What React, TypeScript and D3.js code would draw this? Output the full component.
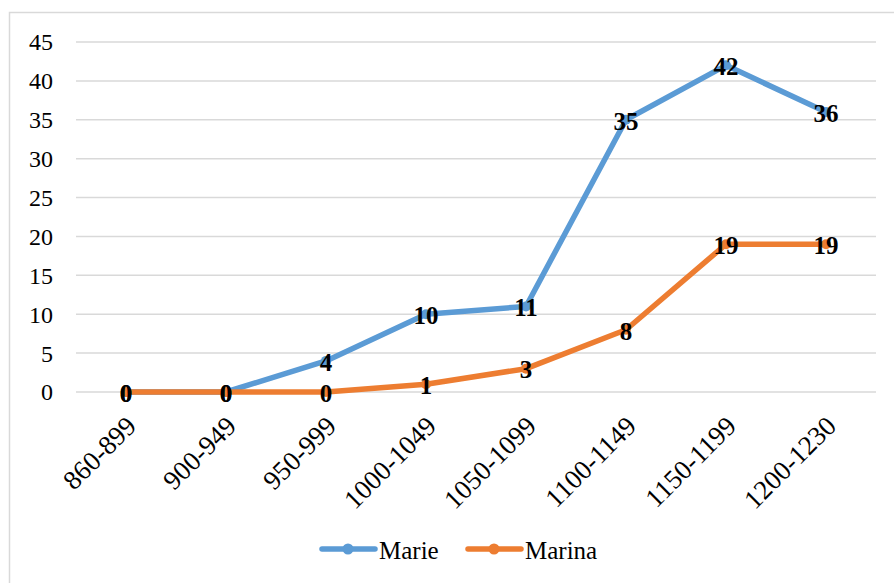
import * as d3 from "d3";
import { useEffect, useRef } from "react";

const categories = [
  "860-899",
  "900-949",
  "950-999",
  "1000-1049",
  "1050-1099",
  "1100-1149",
  "1150-1199",
  "1200-1230",
];
const marieValues = [0, 0, 4, 10, 11, 35, 42, 36];
const marinaValues = [0, 0, 0, 1, 3, 8, 19, 19];
const yTicks = [0, 5, 10, 15, 20, 25, 30, 35, 40, 45];

const seriesList = [
  { name: "Marie", values: marieValues, color: "#5B9BD5" },
  { name: "Marina", values: marinaValues, color: "#ED7D31" },
];

const width = 894;
const height = 583;
const font = "Liberation Serif";

export default function App() {
  const svgRef = useRef<SVGSVGElement>(null);

  useEffect(() => {
    if (!svgRef.current) return;
    const svg = d3.select(svgRef.current);
    svg.selectAll("*").remove();

    // chart frame
    svg
      .append("rect")
      .attr("x", 9.5)
      .attr("y", 12.5)
      .attr("width", 900)
      .attr("height", 600)
      .attr("fill", "#fff")
      .attr("stroke", "#d9d9d9")
      .attr("stroke-width", 1.5);

    const x = d3.scaleBand<string>().domain(categories).range([76, 876]);
    const y = d3.scaleLinear().domain([0, 45]).range([392, 42]);

    // gridlines
    svg
      .append("g")
      .selectAll("line")
      .data(yTicks)
      .join("line")
      .attr("x1", 76)
      .attr("x2", 876)
      .attr("y1", (d) => y(d))
      .attr("y2", (d) => y(d))
      .attr("stroke", "#d9d9d9")
      .attr("stroke-width", 1.5);

    // y tick labels
    svg
      .append("g")
      .selectAll("text")
      .data(yTicks)
      .join("text")
      .attr("x", 53)
      .attr("y", (d) => y(d))
      .attr("dy", "0.35em")
      .attr("text-anchor", "end")
      .style("font-family", font)
      .attr("font-size", 24)
      .attr("fill", "#000")
      .text((d) => d);

    // x tick labels, rotated
    svg
      .append("g")
      .selectAll("text")
      .data(categories)
      .join("text")
      .attr("transform", (d) => `translate(${x(d)! + x.bandwidth() / 2 + 5},${421}) rotate(-45)`)
      .attr("text-anchor", "end")
      .attr("dy", "0.35em")
      .style("font-family", font)
      .attr("font-size", 27)
      .attr("fill", "#000")
      .text((d) => d);

    const cx = (i: number) => x(categories[i])! + x.bandwidth() / 2;
    const line = d3
      .line<number>()
      .x((_, i) => cx(i))
      .y((d) => y(d));

    seriesList.forEach((s) => {
      const g = svg.append("g");
      g.append("path")
        .datum(s.values)
        .attr("d", line)
        .attr("fill", "none")
        .attr("stroke", s.color)
        .attr("stroke-width", 5.5)
        .attr("stroke-linejoin", "round")
        .attr("stroke-linecap", "round");
      g.selectAll("circle")
        .data(s.values)
        .join("circle")
        .attr("cx", (_, i) => cx(i))
        .attr("cy", (d) => y(d))
        .attr("r", 5)
        .attr("fill", s.color);
    });

    // data labels
    seriesList.forEach((s) => {
      svg
        .append("g")
        .selectAll("text")
        .data(s.values)
        .join("text")
        .attr("x", (_, i) => cx(i))
        .attr("y", (d) => y(d) + 1)
        .attr("dy", "0.35em")
        .attr("text-anchor", "middle")
        .style("font-family", font)
        .style("font-weight", "bold")
        .attr("font-size", 25)
        .attr("fill", "#000")
        .text((d) => d);
    });

    // legend
    const legendPos = [320, 466];
    seriesList.forEach((s, i) => {
      const lx = legendPos[i];
      const g = svg.append("g").attr("transform", `translate(${lx},549)`);
      g.append("line")
        .attr("x1", 2)
        .attr("x2", 55)
        .attr("stroke", s.color)
        .attr("stroke-width", 5.5)
        .attr("stroke-linecap", "round");
      g.append("circle").attr("cx", 28).attr("r", 5.5).attr("fill", s.color);
      g.append("text")
        .attr("x", 59)
        .attr("y", 10)
        .style("font-family", font)
        .attr("font-size", 25)
        .attr("fill", "#000")
        .text(s.name);
    });
  }, []);

  return (
    <svg
      ref={svgRef}
      width={width}
      height={height}
      style={{ position: "absolute", left: 0, top: 0, background: "#fff" }}
    />
  );
}
